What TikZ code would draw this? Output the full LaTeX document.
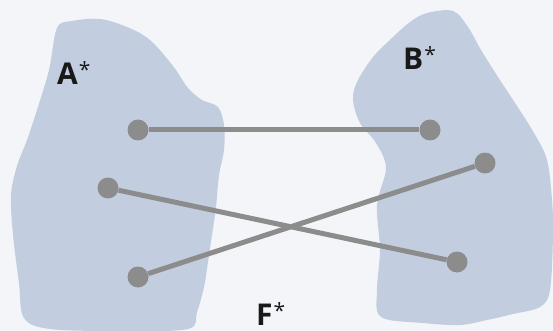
\documentclass[tikz,border=0pt]{standalone}
\usepackage{fontspec}
\usepackage{tikz}
\usepackage{xcolor}
\setmainfont{Open Sans}
\definecolor{bgpaper}{RGB}{243,245,248}
\definecolor{blobblue}{RGB}{194,206,223}
\definecolor{dotgray}{RGB}{140,140,140}
\newcommand{\starmark}{\hspace{1pt}{\fontsize{21}{21}\selectfont\mdseries\raisebox{7pt}{*}}}

\begin{document}
\begin{tikzpicture}[
      x=1pt,y=-1pt,
      blob/.style={fill=blobblue,draw=none},
      dot/.style={circle,fill=dotgray,inner sep=0pt,minimum size=21pt},
      link/.style={draw=dotgray,line width=5pt},
      lbl/.style={anchor=base west,inner sep=0pt,text=black!90,font=\fontsize{30}{30}\selectfont\bfseries}
    ]
    \fill[bgpaper] (0,0) rectangle (553,331);
    \useasboundingbox (0,0) rectangle (553,331);
    % the two sets
    \fill[blob] plot[smooth cycle,tension=0.55] coordinates {
      (57,28) (72,21) (100,19) (127,27) (150,40) (173,66) (188,88) (202,100)
      (218,107) (224,125) (224,150) (219,175) (216,207) (212,235) (208,262)
      (204,287) (197,312) (188,329) (120,331) (50,329) (24,318) (19,283)
      (13,235) (11,195) (17,166) (27,140) (37,110) (49,70)};
    \fill[blob] plot[smooth cycle,tension=0.55] coordinates {
      (410,22) (427,13) (453,11) (468,27) (481,50) (498,77) (517,106) (534,133)
      (547,160) (552,200) (553,235) (550,290) (540,307) (513,314) (487,320)
      (460,325) (423,323) (381,317) (377,290) (380,250) (377,205) (386,168)
      (376,143) (360,123) (353,100) (357,82) (373,57) (392,38)};
    % labels
    \node[lbl] (la) at (57,85) {A\starmark};
    \node[lbl] (lb) at (403,70) {B\starmark};
    \node[lbl] (lf) at (256,325) {F\starmark};
    % points
    \node[dot] (a1) at (138,130) {};
    \node[dot] (a2) at (108,188) {};
    \node[dot] (a3) at (138,277) {};
    \node[dot] (b1) at (430,130) {};
    \node[dot] (b2) at (485,163) {};
    \node[dot] (b3) at (457,262) {};
    \draw[link] (a1) -- (b1);
    \draw[link] (a2) -- (b3);
    \draw[link] (a3) -- (b2);
  \end{tikzpicture}
\end{document}
